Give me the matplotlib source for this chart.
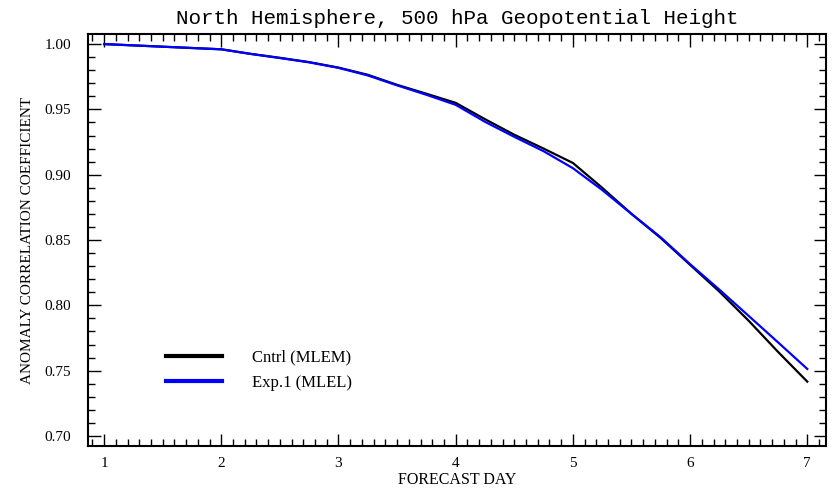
import matplotlib
matplotlib.use("Agg")
import matplotlib.pyplot as plt
from matplotlib.ticker import MultipleLocator

# forecast day (6-hourly) and anomaly correlation
days = [1.0, 1.25, 1.5, 1.75, 2.0, 2.25, 2.5, 2.75, 3.0, 3.25, 3.5, 3.75, 4.0,
        4.25, 4.5, 4.75, 5.0, 5.25, 5.5, 5.75, 6.0, 6.25, 6.5, 6.75, 7.0]
cntrl = [1.000, 0.999, 0.998, 0.997, 0.996, 0.9925, 0.9895, 0.9862, 0.9820,
         0.9765, 0.9688, 0.9620, 0.9550, 0.9425, 0.9306, 0.9200, 0.9090,
         0.8900, 0.8700, 0.8515, 0.8310, 0.8105, 0.7882, 0.7644, 0.7416]
exp1 = [1.000, 0.999, 0.998, 0.997, 0.996, 0.9925, 0.9893, 0.9860, 0.9818,
        0.9760, 0.9684, 0.9612, 0.9535, 0.9405, 0.9290, 0.9180, 0.9050,
        0.8883, 0.8700, 0.8520, 0.8315, 0.8120, 0.7919, 0.7717, 0.7513]

labels = ["Cntrl (MLEM)", "Exp.1 (MLEL)"]
xticks = [1, 2, 3, 4, 5, 6, 7]
yticks = [0.70, 0.75, 0.80, 0.85, 0.90, 0.95, 1.00]

plt.rcParams['font.family'] = ['Liberation Serif', 'DejaVu Serif']

fig = plt.figure(figsize=(8.36, 4.91), dpi=100)
ax = fig.add_axes([0.1053, 0.0916, 0.8828, 0.8391])

ax.plot(days, cntrl, color='black', linewidth=1.6, label=labels[0])
ax.plot(days, exp1, color='#0000ff', linewidth=1.6, label=labels[1])

ax.set_xlim(0.863, 7.16)
ax.set_ylim(0.6923, 1.0077)
ax.set_xticks(xticks)
ax.set_yticks(yticks)
ax.set_yticklabels([f"{v:.2f}" for v in yticks])
ax.xaxis.set_minor_locator(MultipleLocator(0.1))
ax.yaxis.set_minor_locator(MultipleLocator(0.01))
ax.tick_params(which='both', direction='in', top=True, right=True,
               labelsize=11, width=1)
ax.tick_params(which='major', length=9)
ax.tick_params(axis='x', which='major', pad=8)
ax.tick_params(axis='y', which='major', pad=12)
ax.tick_params(which='minor', length=5)
for s in ax.spines.values():
    s.set_linewidth(1.5)

ax.set_title("North Hemisphere, 500 hPa Geopotential Height", fontsize=15,
             family=['Liberation Mono', 'DejaVu Sans Mono'], pad=7)
ax.set_ylabel("ANOMALY CORRELATION COEFFICIENT", fontsize=11, labelpad=8)
ax.set_xlabel("FORECAST DAY", fontsize=11.5, labelpad=1)

leg = ax.legend(loc='upper left', bbox_to_anchor=(0.085, 0.27),
                frameon=False, fontsize=12, handlelength=3.4,
                handletextpad=1.8, labelspacing=0.55)
for h in leg.legend_handles:
    h.set_linewidth(3)

fig.savefig("out.png", dpi=100)
